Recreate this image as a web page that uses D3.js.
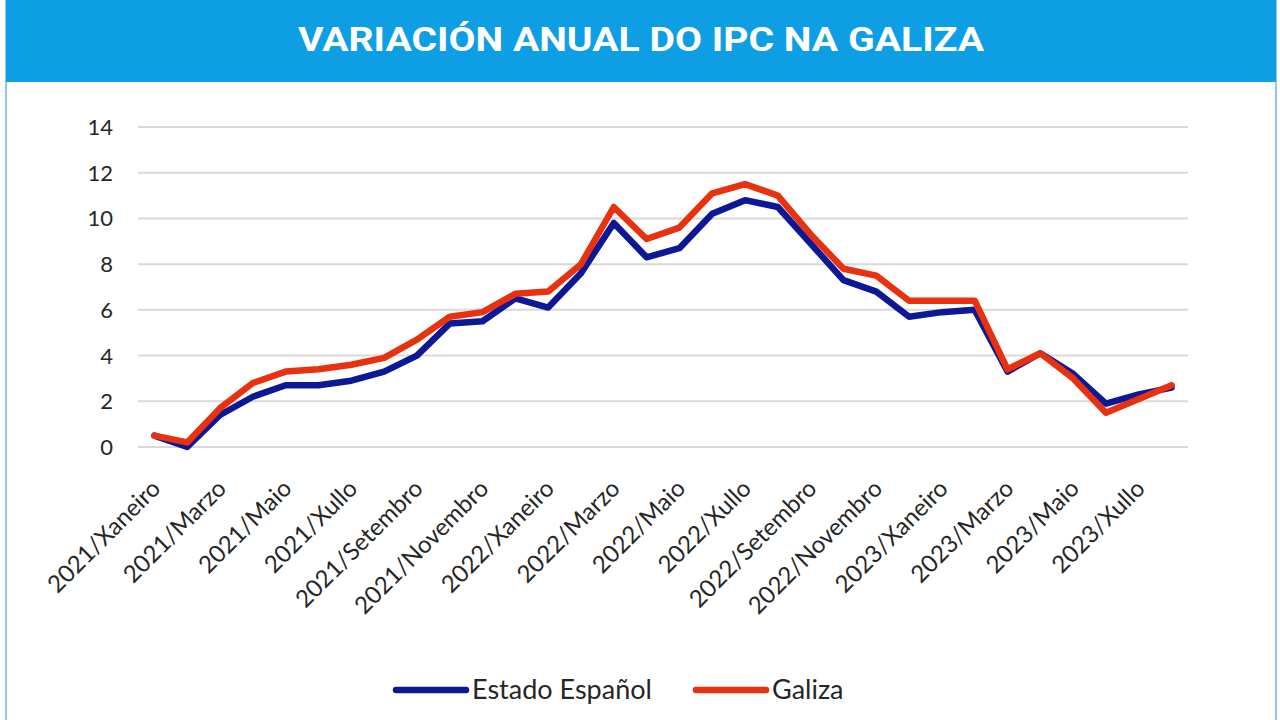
<!DOCTYPE html>
<html>
<head>
<meta charset="utf-8">
<script src="https://cdn.jsdelivr.net/npm/d3@7"></script>
<style>
  html, body { margin: 0; padding: 0; background: #ffffff; }
  svg { display: block; }
</style>
</head>
<body>
<svg id="chart" width="1280" height="720"></svg>
<script>
const months = [
  "2021/Xaneiro","2021/Febreiro","2021/Marzo","2021/Abril","2021/Maio","2021/Xuño",
  "2021/Xullo","2021/Agosto","2021/Setembro","2021/Outubro","2021/Novembro","2021/Decembro",
  "2022/Xaneiro","2022/Febreiro","2022/Marzo","2022/Abril","2022/Maio","2022/Xuño",
  "2022/Xullo","2022/Agosto","2022/Setembro","2022/Outubro","2022/Novembro","2022/Decembro",
  "2023/Xaneiro","2023/Febreiro","2023/Marzo","2023/Abril","2023/Maio","2023/Xuño",
  "2023/Xullo","2023/Agosto"
];
const estadoEspanol = [0.5,0.0,1.4,2.2,2.7,2.7,2.9,3.3,4.0,5.4,5.5,6.5,
                       6.1,7.6,9.8,8.3,8.7,10.2,10.8,10.5,8.9,7.3,6.8,5.7,
                       5.9,6.0,3.3,4.1,3.2,1.9,2.3,2.6];
const galiza = [0.5,0.2,1.7,2.8,3.3,3.4,3.6,3.9,4.7,5.7,5.9,6.7,
                6.8,8.0,10.5,9.1,9.6,11.1,11.5,11.0,9.3,7.8,7.5,6.4,
                6.4,6.4,3.4,4.1,3.0,1.5,2.1,2.7];
const yTicks = [0,2,4,6,8,10,12,14];
const xTickLabels = months.filter((d,i) => i % 2 === 0 && i < 31);
const seriesNames = ["Estado Español","Galiza"];
const title = "VARIACIÓN ANUAL DO IPC NA GALIZA";

(function () {
const colors = { "Estado Español": "#0c1896", "Galiza": "#e8310f" };
const font = "Lato, 'Open Sans', sans-serif";

const svg = d3.select("#chart");

// frame
svg.append("rect").attr("x", 6).attr("y", 1).attr("width", 1270).attr("height", 740)
  .attr("fill", "#ffffff").attr("stroke", "#8ec9ea").attr("stroke-width", 2);
// title bar
svg.append("rect").attr("x", 6).attr("y", 0).attr("width", 1270).attr("height", 82)
  .attr("fill", "#0d9ee3");
svg.append("text").attr("x", 641).attr("y", 51)
  .attr("text-anchor", "middle")
  .attr("fill", "#ffffff")
  .attr("font-family", "Roboto, 'Open Sans', sans-serif")
  .attr("font-weight", 700)
  .attr("font-size", 33)
  .attr("textLength", 686).attr("lengthAdjust", "spacingAndGlyphs")
  .text(title);

const pLeft = 138, pRight = 1188, pTop = 127, pBottom = 447;

const x = d3.scalePoint().domain(months).range([pLeft, pRight]).padding(0.5);
const y = d3.scaleLinear().domain([0, 14]).range([pBottom, pTop]);

// gridlines
svg.append("g").selectAll("line").data(yTicks).join("line")
  .attr("x1", pLeft).attr("x2", pRight)
  .attr("y1", d => y(d)).attr("y2", d => y(d))
  .attr("stroke", "#d9d9d9").attr("stroke-width", 2);

// y axis
const yAxis = svg.append("g").attr("transform", `translate(${pLeft - 25},0)`)
  .call(d3.axisLeft(y).tickValues(yTicks).tickSize(0).tickPadding(0).tickFormat(d3.format("d")));
yAxis.select(".domain").remove();
yAxis.selectAll("text").attr("font-family", font).attr("font-size", 22).attr("fill", "#262626")
  .attr("dy", "0.34em");

// x axis
const xAxis = svg.append("g").attr("transform", `translate(0,${pBottom})`)
  .call(d3.axisBottom(x).tickValues(xTickLabels).tickSize(0).tickPadding(0));
xAxis.select(".domain").remove();
xAxis.selectAll("text")
  .attr("font-family", font).attr("font-size", 24).attr("fill", "#262626")
  .attr("text-anchor", "end")
  .attr("dy", null).attr("y", null)
  .attr("transform", "translate(7,43) rotate(-45)");

// lines
const line = d3.line().x((d,i) => x(months[i])).y(d => y(d));
const seriesData = [
  { name: seriesNames[0], values: estadoEspanol },
  { name: seriesNames[1], values: galiza }
];
svg.append("g").selectAll("path").data(seriesData).join("path")
  .attr("d", d => line(d.values))
  .attr("fill", "none")
  .attr("stroke", d => colors[d.name])
  .attr("stroke-width", 6.5)
  .attr("stroke-linejoin", "round")
  .attr("stroke-linecap", "round");

// legend
const legendX = [396, 696];
const lg = svg.append("g").selectAll("g").data(seriesData).join("g")
  .attr("transform", (d,i) => `translate(${legendX[i]},690)`);
lg.append("line").attr("x1", 0).attr("x2", 70).attr("y1", 0).attr("y2", 0)
  .attr("stroke", d => colors[d.name]).attr("stroke-width", 6.5).attr("stroke-linecap", "round");
lg.append("text").attr("x", 76).attr("y", 0).attr("dy", "0.35em")
  .attr("font-family", font).attr("font-size", 27).attr("fill", "#262626")
  .text(d => d.name);
})();
</script>
</body>
</html>
